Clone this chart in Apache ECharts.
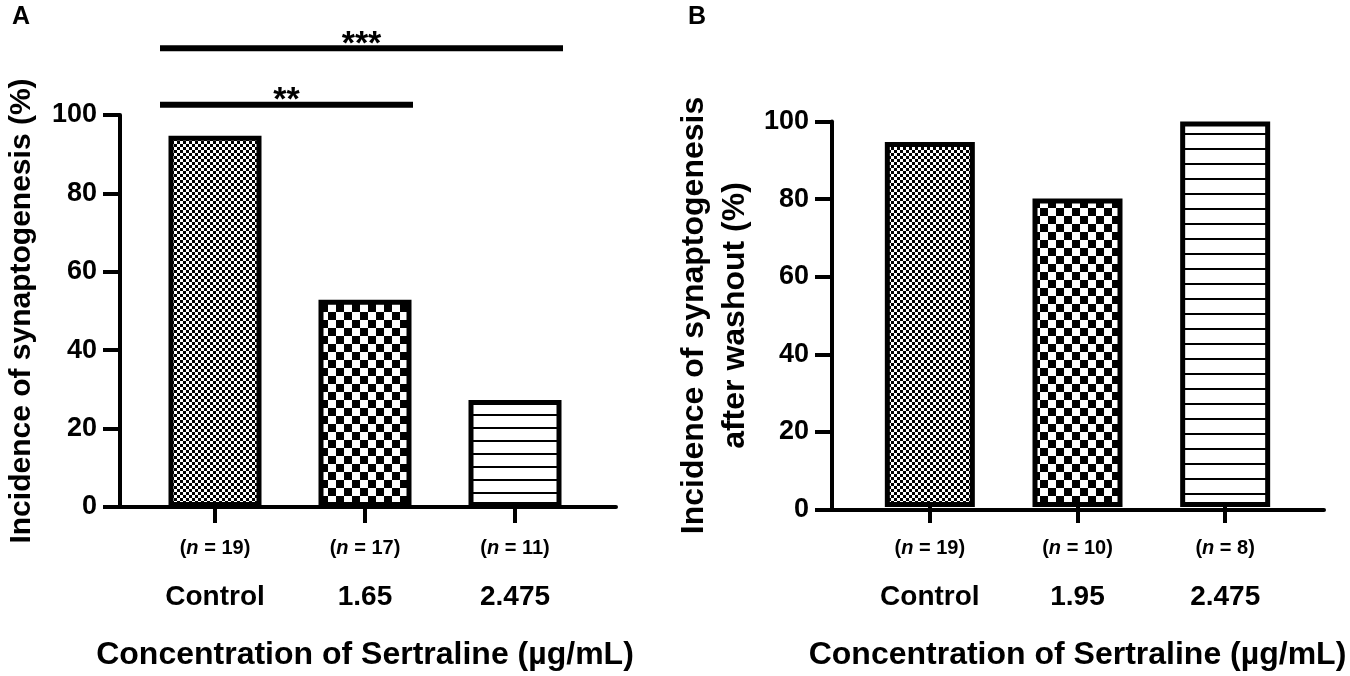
<!DOCTYPE html>
<html>
<head>
<meta charset="utf-8">
<script src="https://cdn.jsdelivr.net/npm/echarts@6/dist/echarts.min.js"></script>
<style>
html,body{margin:0;padding:0;background:#fff;}
#c{width:1350px;height:676px;}
</style>
</head>
<body>
<div id="c"></div>
<script>
// ---- data ----
const catsA = ['Control', '1.65', '2.475'];
const nA = [19, 17, 11];
const valsA = [94.7, 52.9, 27.3];
const catsB = ['Control', '1.95', '2.475'];
const nB = [19, 10, 8];
const valsB = [94.7, 80, 100];
const yTickMin = 0, yTickMax = 100, yTickStep = 20;
const sigA = [
  {from: 0, to: 1, y: 102.6, label: '**'},
  {from: 0, to: 2, y: 117, label: '***'}
];
const xName = 'Concentration of Sertraline (µg/mL)';
const yNameA = 'Incidence of synaptogenesis (%)';
const yNameB = 'Incidence of synaptogenesis\nafter washout (%)';

// ---- patterns ----
function checker(cell) {
  const c = document.createElement('canvas');
  c.width = cell * 2; c.height = cell * 2;
  const g = c.getContext('2d');
  g.fillStyle = '#fff'; g.fillRect(0, 0, c.width, c.height);
  g.fillStyle = '#000';
  g.fillRect(0, 0, cell, cell);
  g.fillRect(cell, cell, cell, cell);
  return {image: c, repeat: 'repeat'};
}
function hlines(step, w) {
  const c = document.createElement('canvas');
  c.width = 4; c.height = step;
  const g = c.getContext('2d');
  g.fillStyle = '#fff'; g.fillRect(0, 0, c.width, c.height);
  g.fillStyle = '#000'; g.fillRect(0, step - w, c.width, w);
  return {image: c, repeat: 'repeat'};
}
const patA = [checker(3), checker(8), hlines(13, 2)];
const patB = [checker(3), checker(8), hlines(15, 2)];

const FONT = "'Liberation Sans', Arial, sans-serif";

function labelFmt(ns) {
  return function (value, idx) {
    return '{p|(}{i|n}{p| = ' + ns[idx] + ')}\n{c|' + value + '}';
  };
}
const richLbl = {
  p: {fontSize: 20, fontWeight: 'bold', fontFamily: FONT, color: '#000', lineHeight: 22},
  i: {fontSize: 20, fontWeight: 'bold', fontStyle: 'italic', fontFamily: FONT, color: '#000', lineHeight: 22},
  c: {fontSize: 28, fontWeight: 'bold', fontFamily: FONT, color: '#000', lineHeight: 76}
};

function frameAxes(gridIdx, yName, nameGap, nameSize) {
  return {
    x: {
      type: 'value', gridIndex: gridIdx, min: 0, max: 1,
      axisLine: {show: true, onZero: false, lineStyle: {color: '#000', width: 4}},
      axisTick: {show: false}, axisLabel: {show: false}, splitLine: {show: false}
    },
    y: {
      type: 'value', gridIndex: gridIdx, min: yTickMin, max: yTickMax, interval: yTickStep,
      name: yName, nameLocation: 'middle', nameGap: nameGap,
      nameTextStyle: {fontSize: nameSize, fontWeight: 'bold', fontFamily: FONT, color: '#000', lineHeight: 41},
      axisLine: {show: true, lineStyle: {color: '#000', width: 4}},
      axisTick: {show: true, length: 17, lineStyle: {color: '#000', width: 4}},
      axisLabel: {fontSize: 27, fontWeight: 'bold', fontFamily: FONT, color: '#000', margin: 23},
      splitLine: {show: false}
    }
  };
}
function barAxes(gridIdx, cats, ns) {
  return {
    x: {
      type: 'category', gridIndex: gridIdx, data: cats,
      name: xName, nameLocation: 'middle', nameGap: 132,
      nameTextStyle: {fontSize: 32, fontWeight: 'bold', fontFamily: FONT, color: '#000'},
      axisLine: {show: false},
      axisTick: {show: true, alignWithLabel: true, length: 16, lineStyle: {color: '#000', width: 4}},
      axisLabel: {formatter: labelFmt(ns), rich: richLbl, margin: 30, interval: 0}
    },
    y: {
      type: 'value', gridIndex: gridIdx, min: yTickMin, max: yTickMax, show: false
    }
  };
}

const fA = frameAxes(0, yNameA, 78, 30);
const bA = barAxes(1, catsA, nA);
const fB = frameAxes(2, yNameB, 76, 32);
const bB = barAxes(3, catsB, nB);

function barData(vals, pats) {
  return vals.map((v, i) => ({value: v, itemStyle: {color: pats[i]}}));
}

const option = {
  backgroundColor: '#fff',
  animation: false,
  title: [
    {text: 'A', left: 7, top: 0, textStyle: {fontSize: 25, fontWeight: 'bold', fontFamily: FONT, color: '#000'}},
    {text: 'B', left: 683, top: 0, textStyle: {fontSize: 25, fontWeight: 'bold', fontFamily: FONT, color: '#000'}}
  ],
  grid: [
    {left: 117, width: 499, top: 115, height: 392},
    {left: 140, width: 450, top: 115, height: 392},
    {left: 832, width: 492, top: 121.5, height: 388},
    {left: 856, width: 443, top: 121.5, height: 388}
  ],
  xAxis: [fA.x, bA.x, fB.x, bB.x],
  yAxis: [fA.y, bA.y, fB.y, bB.y],
  series: [
    {
      type: 'bar', xAxisIndex: 1, yAxisIndex: 1, barWidth: 93,
      itemStyle: {borderColor: '#000', borderWidth: 5},
      data: barData(valsA, patA)
    },
    {
      type: 'bar', xAxisIndex: 3, yAxisIndex: 3, barWidth: 90,
      itemStyle: {borderColor: '#000', borderWidth: 5},
      data: barData(valsB, patB)
    },
    {
      type: 'custom', xAxisIndex: 1, yAxisIndex: 1, clip: false, silent: true,
      data: sigA.map(s => [s.from, s.to, s.y]),
      renderItem: function (params, api) {
        const a = api.coord([api.value(0), api.value(2)]);
        const b = api.coord([api.value(1), api.value(2)]);
        const x0 = a[0] - 55, x1 = b[0] + 48;
        return {
          type: 'group',
          children: [
            {type: 'line', shape: {x1: x0, y1: a[1], x2: x1, y2: a[1]},
             style: {stroke: '#000', lineWidth: 6}},
            {type: 'text', x: (x0 + x1) / 2, y: a[1] + 13,
             style: {text: sigA[params.dataIndex].label, textAlign: 'center', textVerticalAlign: 'bottom',
                     font: 'bold 34px ' + FONT, fill: '#000'}}
          ]
        };
      }
    }
  ]
};

const chart = echarts.init(document.getElementById('c'));
chart.setOption(option);
</script>
</body>
</html>
